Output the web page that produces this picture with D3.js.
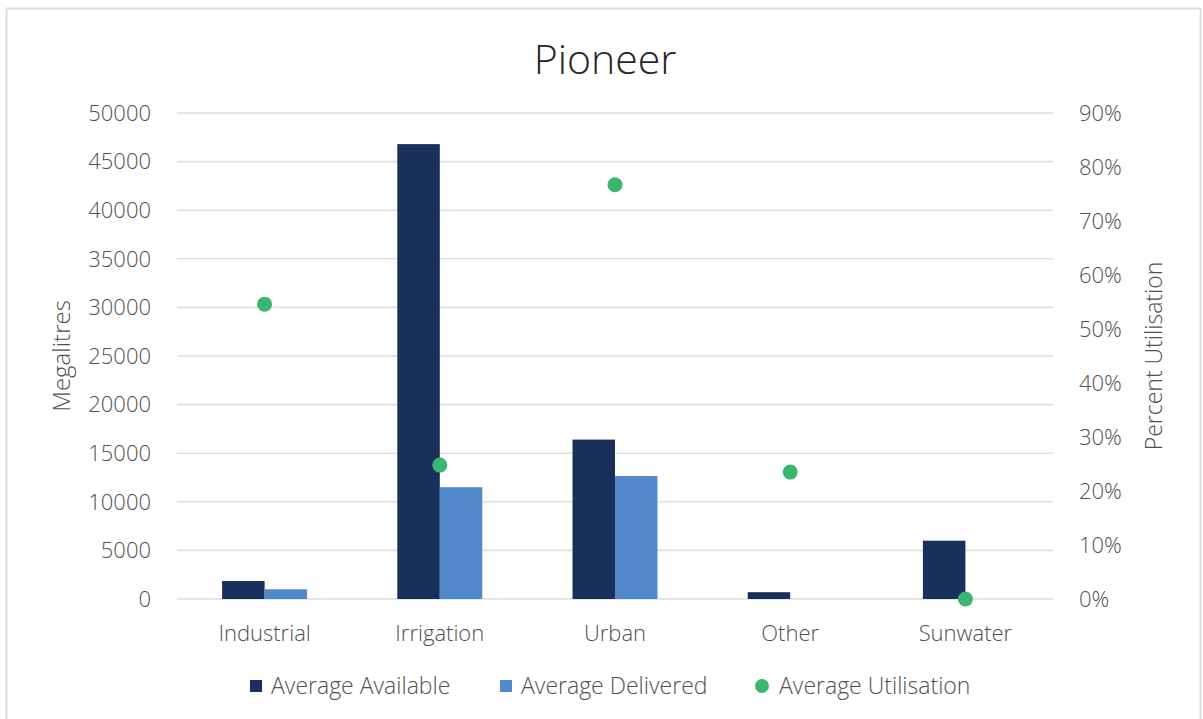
<!DOCTYPE html>
<html lang="en">
<head>
    <meta charset="UTF-8">
    <title>Pioneer</title>
    <script src="https://d3js.org/d3.v7.min.js"></script>
    <style>
        body {
            margin: 0;
            background-color: #fff;
        }
        svg text {
            font-family: "Open Sans", "Noto Sans", sans-serif;
            font-weight: 300;
            fill: #505050;
        }
        .grid line {
            stroke: #d9e1e3;
            stroke-width: 1.6px;
        }
    </style>
</head>
<body>
    <div id="chart"></div>

    <script>
        const categories = ["Industrial", "Irrigation", "Urban", "Other", "Sunwater"];
        const available = [1850, 46800, 16400, 700, 6000];
        const delivered = [1000, 11500, 12650, 0, 0];
        const utilisation = [0.546, 0.248, 0.767, 0.235, 0];
        const leftTicks = d3.range(0, 50001, 5000);
        const rightTicks = d3.range(0, 0.91, 0.1);
        const seriesNames = ["Average Available", "Average Delivered", "Average Utilisation"];

        const width = 1203;
        const height = 719;
        const plot = { left: 177, right: 1053, top: 113, bottom: 599 };
        const colors = { available: "#19305a", delivered: "#5189ca", util: "#3bb56f" };

        const svg = d3.select("#chart")
            .append("svg")
            .attr("width", width)
            .attr("height", height);

        // frame
        svg.append("rect")
            .attr("x", 6.5).attr("y", 8.5)
            .attr("width", 1194).attr("height", 720)
            .attr("fill", "#fff")
            .attr("stroke", "#d9e0e0")
            .attr("stroke-width", 2);

        const x = d3.scaleBand()
            .domain(categories)
            .range([plot.left, plot.right])
            .paddingInner(0.515)
            .paddingOuter(0.2575);

        const xSub = d3.scaleBand()
            .domain(["available", "delivered"])
            .range([0, x.bandwidth()]);

        const yLeft = d3.scaleLinear().domain([0, 50000]).range([plot.bottom, plot.top]);
        const yRight = d3.scaleLinear().domain([0, 0.9]).range([plot.bottom, plot.top]);

        // gridlines
        svg.append("g")
            .attr("class", "grid")
            .selectAll("line")
            .data(leftTicks)
            .enter().append("line")
            .attr("x1", plot.left)
            .attr("x2", plot.right)
            .attr("y1", d => yLeft(d))
            .attr("y2", d => yLeft(d));

        // left tick labels
        svg.append("g")
            .selectAll("text")
            .data(leftTicks)
            .enter().append("text")
            .attr("x", 151)
            .attr("y", d => yLeft(d))
            .attr("dy", "0.35em")
            .attr("text-anchor", "end")
            .style("font-size", "22px")
            .text(d => d);

        // right tick labels
        svg.append("g")
            .selectAll("text")
            .data(rightTicks)
            .enter().append("text")
            .attr("x", 1079)
            .attr("y", d => yRight(d))
            .attr("dy", "0.35em")
            .attr("text-anchor", "start")
            .style("font-size", "22px")
            .text(d => d3.format(".0%")(d));

        // bars
        const groups = svg.append("g")
            .selectAll("g")
            .data(categories)
            .enter().append("g")
            .attr("transform", d => `translate(${x(d)},0)`);

        groups.append("rect")
            .attr("x", xSub("available"))
            .attr("width", xSub.bandwidth())
            .attr("y", (d, i) => yLeft(available[i]))
            .attr("height", (d, i) => yLeft(0) - yLeft(available[i]))
            .attr("fill", colors.available);

        groups.append("rect")
            .attr("x", xSub("delivered"))
            .attr("width", xSub.bandwidth())
            .attr("y", (d, i) => yLeft(delivered[i]))
            .attr("height", (d, i) => yLeft(0) - yLeft(delivered[i]))
            .attr("fill", colors.delivered);

        // utilisation dots
        svg.append("g")
            .selectAll("circle")
            .data(categories)
            .enter().append("circle")
            .attr("cx", d => x(d) + x.bandwidth() / 2)
            .attr("cy", (d, i) => yRight(utilisation[i]))
            .attr("r", 7.5)
            .attr("fill", colors.util);

        // category labels
        svg.append("g")
            .selectAll("text")
            .data(categories)
            .enter().append("text")
            .attr("x", d => x(d) + x.bandwidth() / 2)
            .attr("y", 633)
            .attr("dy", "0.35em")
            .attr("text-anchor", "middle")
            .style("font-size", "22px")
            .text(d => d);

        // title
        svg.append("text")
            .attr("x", 605)
            .attr("y", 60)
            .attr("dy", "0.35em")
            .attr("text-anchor", "middle")
            .style("font-size", "41px")
            .style("fill", "#262626")
            .text("Pioneer");

        // axis titles
        svg.append("text")
            .attr("transform", "translate(62,356) rotate(-90)")
            .attr("dy", "0.35em")
            .attr("text-anchor", "middle")
            .style("font-size", "24px")
            .text("Megalitres");

        svg.append("text")
            .attr("transform", "translate(1154,356) rotate(-90)")
            .attr("dy", "0.35em")
            .attr("text-anchor", "middle")
            .style("font-size", "23px")
            .text("Percent Utilisation");

        // legend
        const legendX = [250, 500, 756];
        const legend = svg.append("g")
            .selectAll("g")
            .data(seriesNames)
            .enter().append("g")
            .attr("transform", (d, i) => `translate(${legendX[i]},686)`);

        legend.filter((d, i) => i < 2).append("rect")
            .attr("x", 0).attr("y", -6)
            .attr("width", 12).attr("height", 12)
            .attr("fill", (d, i) => i === 0 ? colors.available : colors.delivered);

        legend.filter((d, i) => i === 2).append("circle")
            .attr("cx", 6).attr("cy", 0)
            .attr("r", 7)
            .attr("fill", colors.util);

        legend.append("text")
            .attr("x", (d, i) => i === 2 ? 23 : 21)
            .attr("y", 0)
            .attr("dy", "0.35em")
            .style("font-size", "23px")
            .text(d => d);
    </script>
</body>
</html>
